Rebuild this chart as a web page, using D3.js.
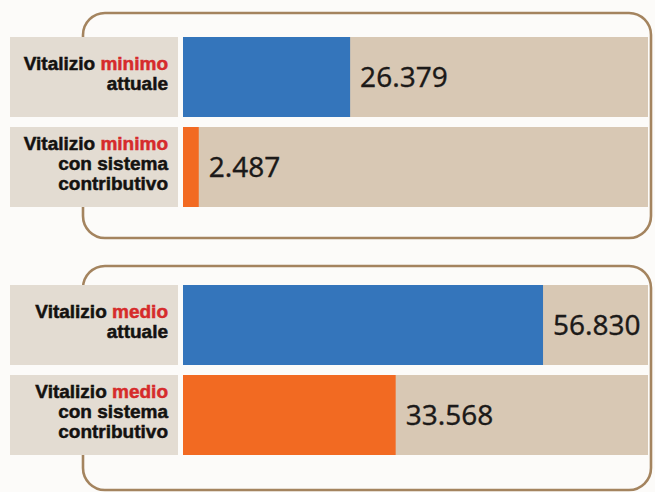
<!DOCTYPE html>
<html>
<head>
<meta charset="utf-8">
<script src="https://cdn.jsdelivr.net/npm/d3@7"></script>
<style>
    body { margin: 0; background: #fcfbf9; }
    svg { display: block; }
</style>
</head>
<body>
<svg id="chart"></svg>
<script>
// data
const groups = ["minimo", "medio"];
const series = ["attuale", "con sistema contributivo"];
const minimoValues = [26379, 2487];
const medioValues = [56830, 33568];
const seriesLines = [["attuale"], ["con sistema", "contributivo"]];

const W = 655;
const H = 492;

const colors = ["#3475bb", "#f26a22"];

const svg = d3.select("#chart")
    .attr("width", W)
    .attr("height", H);

const fmt = d3.formatLocale({ decimal: ",", thousands: ".", grouping: [3], currency: ["", "€"] }).format(",d");

// scales
const yGroup = d3.scalePoint()
    .domain(groups)
    .range([37, 285]);

const yRow = d3.scaleBand()
    .domain(series)
    .range([0, 170])
    .paddingInner(1 / 9);

const x = d3.scaleLinear()
    .domain([0, 73400])
    .range([183, 648]);

const labelLeft = 10;
const labelRight = 178;

// brackets (top / bottom per group)
const bracket = [[13, 238], [266, 490]];

function bracketPath(top, bottom, rowTop, rowBottom) {
    const l = 83, r = 651, rad = 22;
    const p = d3.path();
    p.moveTo(l, rowTop);
    p.lineTo(l, top + rad);
    p.arcTo(l, top, l + rad, top, rad);
    p.lineTo(r - rad, top);
    p.arcTo(r, top, r, top + rad, rad);
    p.lineTo(r, bottom - rad);
    p.arcTo(r, bottom, r - rad, bottom, rad);
    p.lineTo(l + rad, bottom);
    p.arcTo(l, bottom, l, bottom - rad, rad);
    p.lineTo(l, rowBottom);
    return p.toString();
}

groups.forEach((grp, gi) => {
    const vals = gi === 0 ? minimoValues : medioValues;
    const g = svg.append("g")
        .attr("transform", `translate(0,${yGroup(grp)})`);

    const top = yGroup(grp);

    svg.insert("path", ":first-child")
        .attr("d", bracketPath(bracket[gi][0], bracket[gi][1], top, top + yRow.range()[1]))
        .attr("fill", "none")
        .attr("stroke", "#a4845f")
        .attr("stroke-width", 2.6);

    series.forEach((s, si) => {
        const y0 = yRow(s);
        const bh = yRow.bandwidth();
        const cy = y0 + bh / 2;

        // label box
        g.append("rect")
            .attr("x", labelLeft)
            .attr("y", y0)
            .attr("width", labelRight - labelLeft)
            .attr("height", bh)
            .attr("fill", "#e3dcd2");

        // track
        g.append("rect")
            .attr("x", x(0))
            .attr("y", y0)
            .attr("width", x.range()[1] - x(0))
            .attr("height", bh)
            .attr("fill", "#d8c8b4");

        // bar
        g.append("rect")
            .attr("x", x(0))
            .attr("y", y0)
            .attr("width", x(vals[si]) - x(0))
            .attr("height", bh)
            .attr("fill", colors[si]);

        // value
        g.append("text")
            .attr("x", x(vals[si]) + 10)
            .attr("y", cy + 10)
            .attr("font-family", "'Noto Sans', sans-serif")
            .attr("font-size", 28)
            .attr("fill", "#1c1a19")
            .attr("stroke", "#1c1a19")
            .attr("stroke-width", 0.3)
            .text(fmt(vals[si]));

        // label lines
        const lines = [null].concat(seriesLines[si]);
        const n = lines.length;
        lines.forEach((ln, li) => {
            const t = g.append("text")
                .attr("x", 168)
                .attr("y", cy + (li - (n - 1) / 2) * 20 + 3)
                .attr("text-anchor", "end")
                .attr("font-family", "'Liberation Sans', Arial, sans-serif")
                .attr("font-weight", "bold")
                .attr("font-size", 19)
                .attr("fill", "#141210")
                .attr("stroke", "#141210")
                .attr("stroke-width", 0.5);
            if (ln === null) {
                t.append("tspan").text("Vitalizio ");
                t.append("tspan")
                    .attr("fill", "#d62b2b")
                    .attr("stroke", "#d62b2b")
                    .text(grp);
            } else {
                t.text(ln);
            }
        });
    });
});
</script>
</body>
</html>
